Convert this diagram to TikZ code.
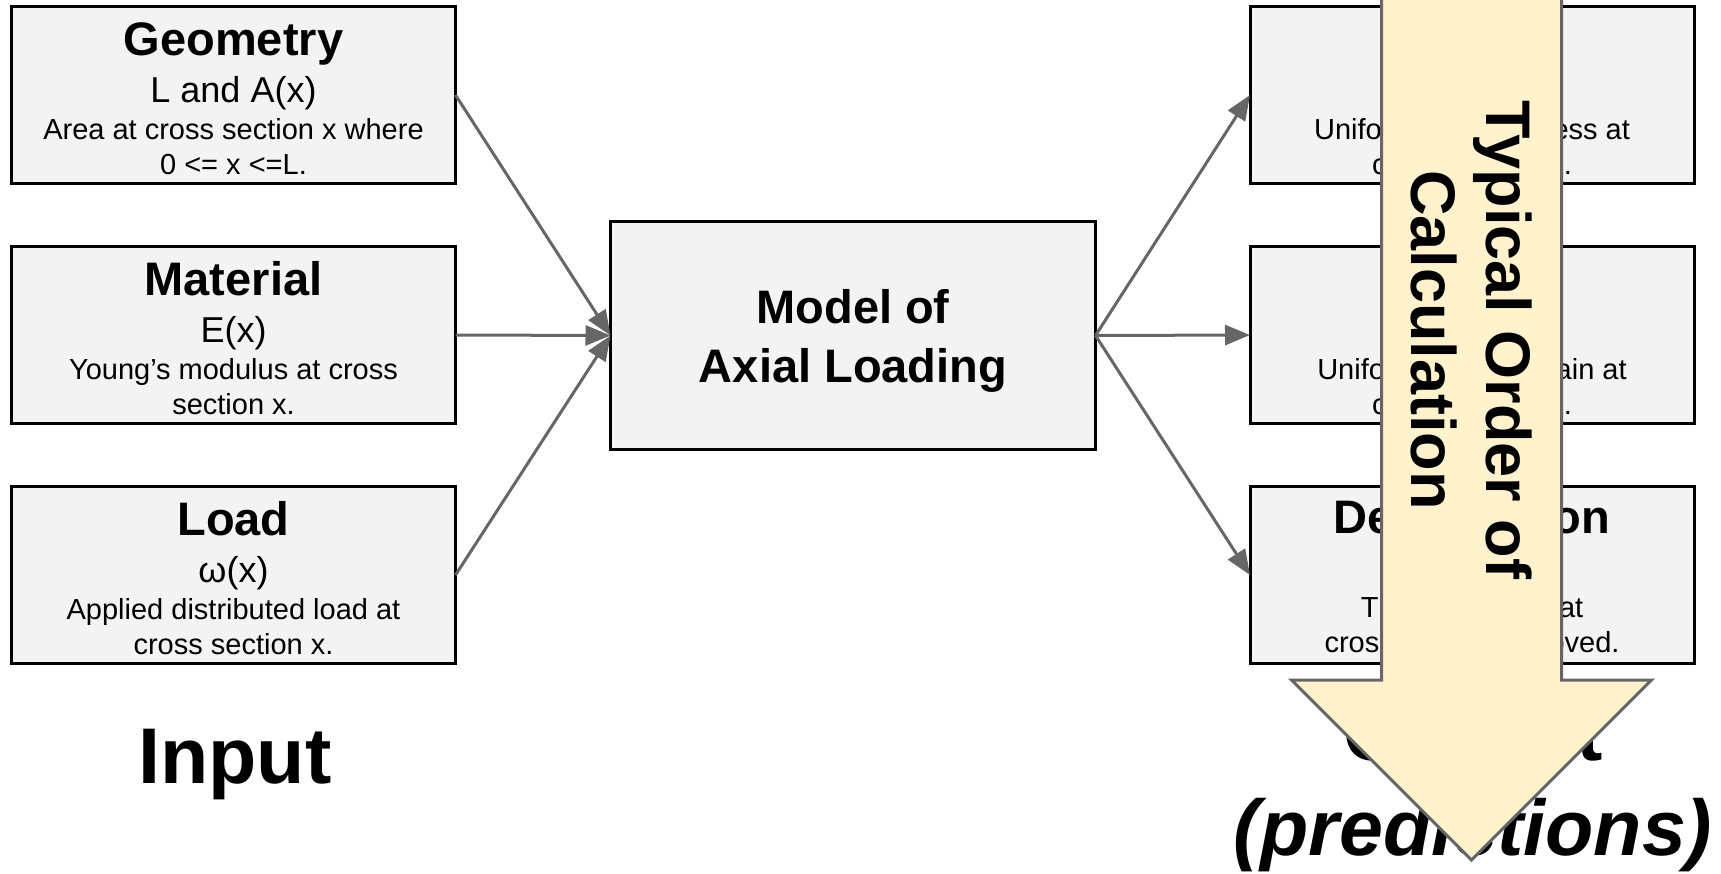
\documentclass[tikz,border=0pt]{standalone}
\usepackage{fontspec}
\setmainfont{Liberation Sans}
\usetikzlibrary{arrows.meta}
\definecolor{boxgray}{HTML}{F3F3F3}
\definecolor{arrgray}{HTML}{666666}
\definecolor{cream}{HTML}{FFF2CC}
\begin{document}
\begin{tikzpicture}[x=1pt,y=-1pt,
  box/.style={draw=black,line width=3pt,fill=boxgray,minimum width=444pt,minimum height=177pt,inner sep=0pt,outer sep=0pt},
  modelbox/.style={box,minimum width=485pt,minimum height=228pt},
  ttl/.style={anchor=base,inner sep=0pt,font=\fontsize{47}{56}\selectfont\bfseries},
  frm/.style={anchor=base,inner sep=0pt,font=\fontsize{36}{42}\selectfont},
  dsc/.style={anchor=base,inner sep=0pt,font=\fontsize{29}{34}\selectfont},
  bigtxt/.style={anchor=base,inner sep=0pt,font=\fontsize{79}{90}\selectfont\bfseries},
  conn/.style={draw=arrgray,line width=3pt,-{Triangle[length=25pt,width=20pt]}},
  bigarrow/.style={draw=arrgray,line width=3pt,fill=cream,line join=miter}]
\useasboundingbox[fill=white] (0,0) rectangle (1721,873);

% input boxes
\node[box] (geo) at (233.5,95) {};
\node[box] (mat) at (233.5,335) {};
\node[box] (load) at (233.5,575) {};
% model
\node[modelbox] (model) at (853,335.5) {};
% output boxes
\node[box] (stress) at (1472,95) {};
\node[box] (strain) at (1472,335) {};
\node[box] (defo) at (1472,575) {};

% texts of input boxes
\node[ttl] (geo-t) at (233.5,55) {Geometry};
\node[frm] (geo-f) at (233.5,102) {L and A(x)};
\node[dsc] (geo-d1) at (233.5,139) {Area at cross section x where};
\node[dsc] (geo-d2) at (233.5,174) {0 <= x <=L.};

\node[ttl] (mat-t) at (233.5,295) {Material};
\node[frm] (mat-f) at (233.5,342) {E(x)};
\node[dsc] (mat-d1) at (233.5,379) {Young’s modulus at cross};
\node[dsc] (mat-d2) at (233.5,414) {section x.};

\node[ttl] (load-t) at (233.5,535) {Load};
\node[frm] (load-f) at (233.5,582) {ω(x)};
\node[dsc] (load-d1) at (233.5,619) {Applied distributed load at};
\node[dsc] (load-d2) at (233.5,654) {cross section x.};

% model text
\node[ttl] (model-t1) at (853,323) {Model of};
\node[ttl] (model-t2) at (853,382) {Axial Loading};

% output box texts
\node[dsc] (stress-d1) at (1472,139) {Uniform normal stress at};
\node[dsc] (stress-d2) at (1472,174) {cross section x.};
\node[dsc] (strain-d1) at (1472,379) {Uniform normal strain at};
\node[dsc] (strain-d2) at (1472,414) {cross section x.};
\node[ttl] (defo-t) at (1472,533) {Deformation};
\node[dsc] (defo-d1) at (1472,617) {The distance that};
\node[dsc] (defo-d2) at (1472,652) {cross section x moved.};

% connectors
\draw[conn] (geo.east) -- (model.west);
\draw[conn] (mat.east) -- (model.west);
\draw[conn] (load.east) -- (model.west);
\draw[conn] (model.east) -- (stress.west);
\draw[conn] (model.east) -- (strain.west);
\draw[conn] (model.east) -- (defo.west);

% big labels
\node[bigtxt] (input) at (235,783) {Input};
\node[bigtxt] (output) at (1473,760) {Output};
\node[bigtxt,font=\fontsize{79}{90}\selectfont\bfseries\itshape] (pred) at (1473,855) {(predictions)};

% typical order arrow
\draw[bigarrow] (1381.5,-10) -- (1561.5,-10) -- (1561.5,680) -- (1651.5,680)
  -- (1471.5,860) -- (1291.5,680) -- (1381.5,680) -- cycle;
\node[rotate=-90,align=center,inner sep=0pt,font=\fontsize{63}{75}\selectfont\bfseries] (order) at (1471.5,340) {Typical Order of\\Calculation};
\end{tikzpicture}
\end{document}
